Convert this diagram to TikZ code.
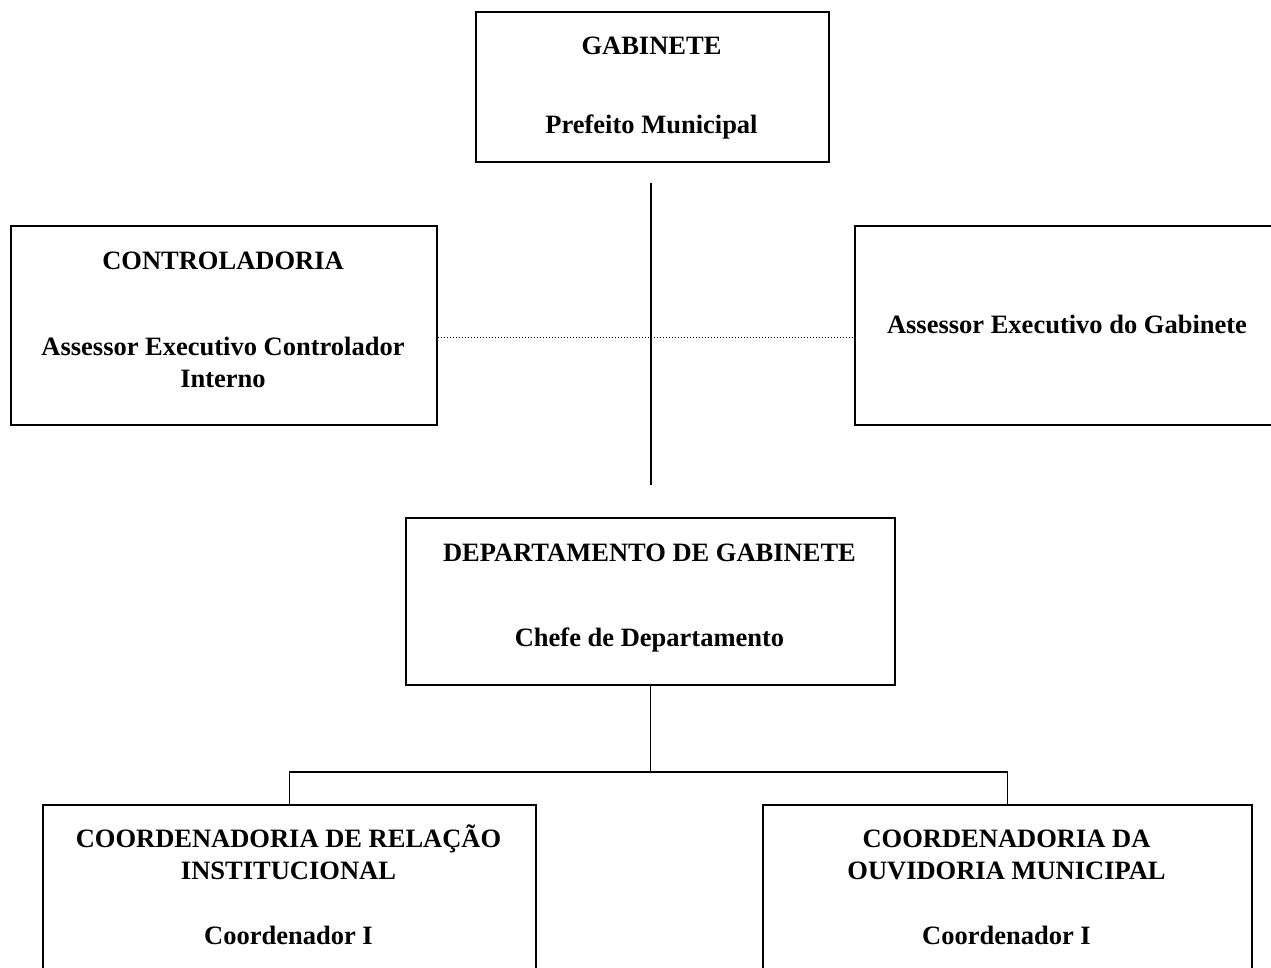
\documentclass[tikz,border=0pt]{standalone}
\usepackage{fontspec}
\setmainfont{Liberation Serif}
\begin{document}
\begin{tikzpicture}[x=1pt,y=-1pt,
  box/.style={draw,line width=1.6pt,rectangle,anchor=north west,inner sep=0pt},
  lbl/.style={align=center,font=\fontsize{26.5}{32}\selectfont\bfseries,inner sep=0pt},
  conn/.style={line width=1.6pt},
  dotconn/.style={line width=1pt,dash pattern=on 1pt off 2pt}]
\useasboundingbox (0,0) rectangle (1271,967);
\clip (0,0) rectangle (1271,967);
% boxes
\node[box,minimum width=353pt,minimum height=150pt] (gab) at (475,11) {};
\node[box,minimum width=426pt,minimum height=199pt] (ctrl) at (10,225) {};
\node[box,minimum width=436pt,minimum height=199pt] (ass) at (854,225) {};
\node[box,minimum width=489pt,minimum height=167pt] (dept) at (405,517) {};
\node[box,minimum width=493pt,minimum height=200pt] (cl) at (42,804) {};
\node[box,minimum width=489pt,minimum height=200pt] (cr) at (762,804) {};
% labels
\node[lbl] (tgab) at (651.5,88) {GABINETE\\[47pt]Prefeito Municipal};
\node[lbl] (tctrl) at (223,320) {CONTROLADORIA\\[54pt]Assessor Executivo Controlador\\Interno};
\node[lbl] (tass) at (1067,324) {Assessor Executivo do Gabinete};
\node[lbl] (tdept) at (649.5,598) {DEPARTAMENTO DE GABINETE\\[53pt]Chefe de Departamento};
\node[lbl] (tcl) at (288.5,884.5) {COORDENADORIA DE RELAÇÃO\\INSTITUCIONAL\\[33pt]Coordenador I};
\node[lbl] (tcr) at (1006.5,887.5) {COORDENADORIA DA\\OUVIDORIA MUNICIPAL\\[33pt]Coordenador I};
% connectors
\coordinate (vtop) at (651,183);
\coordinate (vbot) at (651,485);
\coordinate (dotlevel) at (651,337);
\coordinate (hub) at (651,772);
\draw[conn] (vtop) -- (vbot);
\draw[dotconn] (ctrl.east |- dotlevel) -- (ass.west |- dotlevel);
\draw[conn] (dept.south) -- (dept.south |- hub);
\draw[conn] (cl.north) -- (cl.north |- hub) -- (cr.north |- hub) -- (cr.north);
\end{tikzpicture}
\end{document}
